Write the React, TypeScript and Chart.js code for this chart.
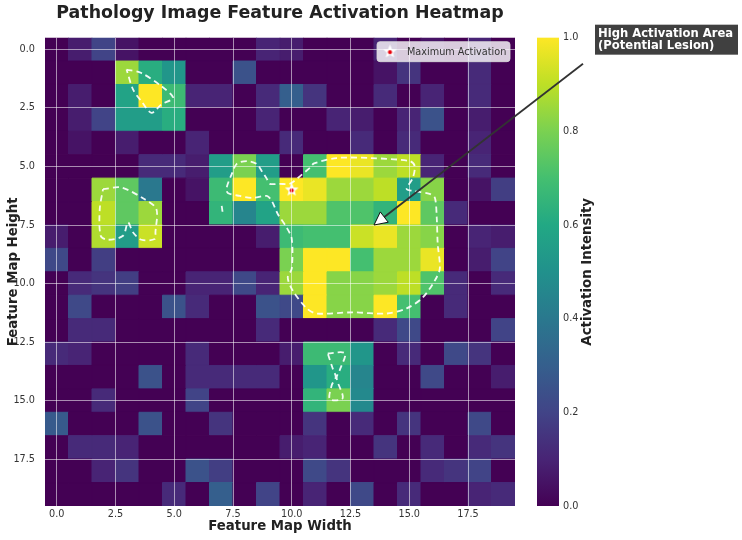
import React, { useEffect, useRef } from "react";
import { Chart, registerables } from "chart.js";

Chart.register(...registerables);

const FONT = "'DejaVu Sans', 'Liberation Sans', Arial, sans-serif";

const TITLE = "Pathology Image Feature Activation Heatmap";
const X_LABEL = "Feature Map Width";
const Y_LABEL = "Feature Map Height";
const CB_LABEL = "Activation Intensity";
const LEGEND_LABEL = "Maximum Activation";
const ANNOTATION_LINES = ["High Activation Area", "(Potential Lesion)"];

const axisTicks = [0, 2.5, 5, 7.5, 10, 12.5, 15, 17.5];
const colorbarTicks = [0, 0.2, 0.4, 0.6, 0.8, 1.0];

// activation[row][col], row 0 at top
const activation: number[][] = [
  [0, 0.08, 0.2, 0.05, 0, 0, 0, 0, 0, 0.1, 0.08, 0, 0, 0, 0.1, 0, 0.05, 0, 0.1, 0],
  [0, 0, 0, 0.85, 0.62, 0.52, 0, 0, 0.25, 0, 0, 0, 0, 0, 0.05, 0.15, 0, 0, 0.12, 0],
  [0, 0.08, 0, 0.58, 1.0, 0.68, 0.1, 0.1, 0, 0.12, 0.3, 0.15, 0, 0, 0.12, 0, 0.1, 0, 0.12, 0],
  [0, 0.08, 0.2, 0.55, 0.55, 0.62, 0, 0, 0, 0.1, 0, 0, 0.1, 0.08, 0, 0.1, 0.25, 0, 0.08, 0],
  [0, 0.05, 0, 0.08, 0, 0, 0.1, 0, 0, 0, 0.12, 0, 0, 0.12, 0, 0.12, 0, 0, 0.1, 0],
  [0, 0, 0, 0, 0.12, 0.12, 0.08, 0.55, 0.8, 0.55, 0, 0.7, 1.0, 0.97, 0.85, 0.9, 0.1, 0, 0.12, 0],
  [0, 0, 0.85, 0.75, 0.4, 0, 0.05, 0.68, 1.0, 0.7, 1.0, 0.97, 0.85, 0.85, 0.9, 0.55, 0.82, 0, 0.05, 0.18],
  [0, 0, 0.9, 0.75, 0.85, 0, 0, 0.65, 0.45, 0.58, 0.85, 0.85, 0.72, 0.72, 0.65, 1.0, 0.75, 0.12, 0, 0],
  [0.08, 0, 0.88, 0.55, 0.92, 0, 0, 0, 0, 0.08, 0.68, 0.7, 0.7, 0.92, 0.97, 0.85, 0.82, 0, 0.1, 0.08],
  [0.22, 0, 0.18, 0, 0, 0, 0, 0, 0, 0, 0.8, 1.0, 1.0, 0.7, 0.85, 0.85, 0.97, 0, 0.08, 0.2],
  [0, 0.12, 0.15, 0.18, 0, 0, 0.1, 0.1, 0.22, 0.1, 0.85, 1.0, 0.82, 0.82, 0.85, 0.9, 0.72, 0.12, 0, 0.12],
  [0, 0.22, 0, 0, 0, 0.25, 0.12, 0, 0, 0.25, 0.22, 1.0, 0.82, 0.82, 1.0, 0.7, 0, 0.12, 0, 0],
  [0, 0.12, 0.12, 0, 0, 0, 0, 0, 0, 0.12, 0, 0, 0, 0, 0.12, 0.22, 0, 0, 0, 0.2],
  [0.12, 0.1, 0, 0, 0, 0, 0.12, 0, 0, 0, 0.08, 0.68, 0.68, 0.52, 0, 0.12, 0, 0.22, 0.15, 0],
  [0, 0, 0, 0, 0.25, 0, 0.12, 0.12, 0.12, 0.12, 0, 0.52, 0.62, 0.45, 0, 0, 0.22, 0, 0, 0.08],
  [0, 0, 0.12, 0, 0, 0, 0.2, 0, 0, 0, 0, 0.65, 0.8, 0.47, 0, 0, 0, 0, 0, 0],
  [0.28, 0, 0, 0, 0.25, 0, 0, 0.15, 0, 0, 0, 0.15, 0, 0.12, 0, 0.15, 0, 0, 0.22, 0],
  [0, 0.12, 0.12, 0.1, 0, 0, 0, 0, 0, 0, 0.08, 0.1, 0, 0, 0.15, 0, 0.12, 0, 0.12, 0.15],
  [0, 0, 0.1, 0.15, 0, 0, 0.25, 0.18, 0, 0, 0, 0.22, 0.15, 0, 0, 0, 0.12, 0.15, 0.2, 0],
  [0, 0, 0, 0, 0, 0.12, 0, 0.3, 0, 0.2, 0, 0.1, 0, 0.22, 0, 0.12, 0, 0, 0.1, 0.12],
];

const maxPoint = { x: 10, y: 6 };
const annotationTarget = { x: 13.5, y: 7.5 };

// contour outlines (data coordinates)
const contourTop: number[][] = [
  [2.97, 0.86], [3.6, 1.01], [4.45, 1.57], [4.95, 2.07], [4.45, 2.35], [4.03, 2.71],
  [3.6, 2.21], [3.25, 1.72], [2.97, 0.86],
];
const contourLeft: number[][] = [
  [1.97, 5.97], [2.75, 5.9], [3.74, 6.4], [4.24, 6.82], [4.2, 7.8], [4.17, 8.1], [3.6, 8.13],
  [3.25, 7.82], [3.03, 7.39], [2.82, 7.96], [2.18, 8.13], [1.87, 7.96], [1.83, 6.82], [1.97, 5.97],
];
const contourMain: number[][] = [
  [10.77, 5.06], [10.26, 5.49], [9.91, 5.74], [9.49, 5.74], [9.06, 5.74], [8.94, 5.53],
  [8.72, 5.19], [8.51, 4.89], [8.09, 4.77], [7.66, 4.89], [7.45, 5.32], [7.23, 5.91],
  [7.28, 6.13], [7.79, 6.26], [8.34, 6.34], [8.94, 6.26], [9.15, 6.47], [9.4, 7.02],
  [9.79, 7.62], [10.0, 8.09], [10.0, 9.36], [9.83, 9.74], [10.04, 10.3], [10.64, 11.06],
  [11.06, 11.28], [12.6, 11.23], [14.04, 11.28], [14.89, 11.06], [15.57, 10.6], [16.09, 9.87],
  [16.3, 9.36], [16.21, 8.3], [16.17, 7.19], [16.09, 6.34], [15.87, 6.17], [15.15, 6.04],
  [14.89, 5.96], [15.15, 5.49], [15.23, 4.98], [15.02, 4.77], [13.32, 4.64], [11.91, 4.64],
  [10.95, 4.87], [10.77, 5.06],
];
const contourSpeck: number[][] = [[7.02, 6.68], [7.06, 6.98]];
const contourBottom: number[][] = [
  [11.53, 12.98], [12.26, 12.98], [12.04, 13.7], [11.91, 14.04], [12.17, 14.89], [11.62, 14.94],
  [11.7, 14.34], [11.87, 14.0], [11.74, 13.62], [11.53, 12.98],
];

const viridisStops = [
  "#440154", "#482475", "#414487", "#355f8d", "#2a788e", "#21918c",
  "#22a884", "#44bf70", "#7ad151", "#bddf26", "#fde725",
];

function hexToRgb(h: string) {
  return [parseInt(h.slice(1, 3), 16), parseInt(h.slice(3, 5), 16), parseInt(h.slice(5, 7), 16)];
}

function viridis(v: number) {
  const t = Math.min(1, Math.max(0, v)) * 10;
  const i = Math.min(9, Math.floor(t));
  const f = t - i;
  const a = hexToRgb(viridisStops[i]);
  const b = hexToRgb(viridisStops[i + 1]);
  const c = a.map((av, k) => Math.round(av + (b[k] - av) * f));
  return `rgb(${c[0]},${c[1]},${c[2]})`;
}

function makeStar(size: number) {
  const c = document.createElement("canvas");
  c.width = size;
  c.height = size;
  const g = c.getContext("2d")!;
  const cx = size / 2;
  const cy = size / 2;
  const ro = size / 2 - 0.3;
  const ri = ro * 0.45;
  g.beginPath();
  for (let i = 0; i < 10; i++) {
    const r = i % 2 === 0 ? ro : ri;
    const ang = -Math.PI / 2 + (i * Math.PI) / 5;
    const px = cx + r * Math.cos(ang);
    const py = cy + r * Math.sin(ang);
    if (i === 0) g.moveTo(px, py);
    else g.lineTo(px, py);
  }
  g.closePath();
  g.fillStyle = "#ffffff";
  g.fill();
  g.beginPath();
  g.arc(cx, cy + 0.5, 2.1, 0, Math.PI * 2);
  g.fillStyle = "#e8000b";
  g.fill();
  return c;
}

const toPts = (arr: number[][]) => arr.map(([x, y]) => ({ x, y }));

const fixSize = (key: "width" | "height", size: number) => (s: any) => {
  s[key] = size;
  s.paddingTop = 0;
  s.paddingBottom = 0;
  s.paddingLeft = 0;
  s.paddingRight = 0;
};

export default function App() {
  const ref = useRef<HTMLCanvasElement>(null);

  useEffect(() => {
    const canvas = ref.current!;
    const star = makeStar(15);

    const cells: { x: number; y: number; v: number }[] = [];
    activation.forEach((row, r) => row.forEach((v, c) => cells.push({ x: c, y: r, v })));

    const cellRadius = (ctx: any) => {
      const xs = ctx.chart.scales.x;
      const side = Math.abs(xs.getPixelForValue(1) - xs.getPixelForValue(0));
      return side / Math.SQRT2;
    };

    const contourStyle = {
      showLine: true,
      borderColor: "rgba(255,255,255,0.92)",
      borderWidth: 1.8,
      borderDash: [6, 4],
      pointRadius: 0,
      pointHitRadius: 0,
      tension: 0.3,
      fill: false,
      order: 1,
    };

    const overlayPlugin = {
      id: "overlay",
      afterDraw(chart: any) {
        const { ctx, chartArea: a, scales } = chart;
        const cb = scales.cb;
        ctx.save();
        // colorbar
        const yTop = cb.getPixelForValue(1);
        const yBot = cb.getPixelForValue(0);
        const grad = ctx.createLinearGradient(0, yBot, 0, yTop);
        viridisStops.forEach((c, i) => grad.addColorStop(i / 10, c));
        ctx.fillStyle = grad;
        ctx.fillRect(a.right + 22, yTop, 22, yBot - yTop);

        // colorbar label
        ctx.save();
        ctx.translate(a.right + 73, (a.top + a.bottom) / 2);
        ctx.rotate(-Math.PI / 2);
        ctx.font = `bold 13.3px ${FONT}`;
        ctx.fillStyle = "#222";
        ctx.textAlign = "center";
        ctx.textBaseline = "middle";
        ctx.fillText(CB_LABEL, 0, 0);
        ctx.restore();

        // legend
        const lx = a.right - 138;
        const ly = a.top + 4;
        const lw = 133;
        const lh = 20;
        ctx.beginPath();
        ctx.roundRect(lx, ly, lw, lh, 3);
        ctx.fillStyle = "rgba(255,255,255,0.8)";
        ctx.fill();
        ctx.strokeStyle = "rgba(220,220,220,0.8)";
        ctx.lineWidth = 1;
        ctx.stroke();
        ctx.drawImage(star, lx + 13 - 7.5, ly + 10 - 7.5);
        ctx.font = `9.7px ${FONT}`;
        ctx.fillStyle = "#333";
        ctx.textAlign = "left";
        ctx.textBaseline = "middle";
        ctx.fillText(LEGEND_LABEL, lx + 30, ly + 10.5);

        // annotation arrow
        const tx = scales.x.getPixelForValue(annotationTarget.x);
        const ty = scales.y.getPixelForValue(annotationTarget.y);
        const sx = a.right + 68;
        const sy = a.top + 26;
        const dx = tx - sx;
        const dy = ty - sy;
        const len = Math.hypot(dx, dy);
        const ux = dx / len;
        const uy = dy / len;
        const headLen = 13;
        const headHalf = 6.5;
        const bx = tx - ux * headLen;
        const by = ty - uy * headLen;
        ctx.beginPath();
        ctx.moveTo(sx, sy);
        ctx.lineTo(bx, by);
        ctx.strokeStyle = "#333";
        ctx.lineWidth = 1.8;
        ctx.stroke();
        ctx.beginPath();
        ctx.moveTo(tx, ty);
        ctx.lineTo(bx - uy * headHalf, by + ux * headHalf);
        ctx.lineTo(bx + uy * headHalf, by - ux * headHalf);
        ctx.closePath();
        ctx.fillStyle = "#ffffff";
        ctx.fill();
        ctx.strokeStyle = "#111";
        ctx.lineWidth = 1;
        ctx.stroke();

        // annotation box
        const bxL = a.right + 80;
        const byT = a.top - 13;
        ctx.fillStyle = "rgba(0,0,0,0.75)";
        ctx.fillRect(bxL, byT, 143, 30);
        ctx.font = `bold 11.6px ${FONT}`;
        ctx.fillStyle = "#ffffff";
        ctx.textAlign = "left";
        ctx.textBaseline = "alphabetic";
        ctx.fillText(ANNOTATION_LINES[0], bxL + 3, a.top - 1);
        ctx.fillText(ANNOTATION_LINES[1], bxL + 3, a.top + 11.3);
        ctx.restore();
      },
    };

    const tickFont = { family: FONT, size: 9.7 };
    const gridOpts = { color: "rgba(255,255,255,0.55)", lineWidth: 1, drawTicks: false, z: 1 };

    const chart = new Chart(canvas, {
      type: "scatter",
      data: {
        datasets: [
          {
            label: "cells",
            data: cells as any,
            pointStyle: "rect",
            pointRadius: cellRadius as any,
            pointBackgroundColor: ((ctx: any) => viridis(ctx.raw.v)) as any,
            pointBorderColor: ((ctx: any) => viridis(ctx.raw.v)) as any,
            pointBorderWidth: 1,
            order: 3,
          } as any,
          { label: "c1", data: toPts(contourTop), ...contourStyle } as any,
          { label: "c2", data: toPts(contourLeft), ...contourStyle } as any,
          { label: "c3", data: toPts(contourMain), ...contourStyle } as any,
          { label: "c4", data: toPts(contourSpeck), ...contourStyle, tension: 0 } as any,
          { label: "c5", data: toPts(contourBottom), ...contourStyle } as any,
          {
            label: LEGEND_LABEL,
            data: [maxPoint],
            pointStyle: star,
            pointRadius: 7,
            order: 0,
          } as any,
        ],
      },
      options: {
        responsive: false,
        animation: false,
        events: [],
        layout: { padding: 0, autoPadding: false },
        plugins: {
          legend: { display: false },
          tooltip: { enabled: false },
          title: {
            display: true,
            text: TITLE,
            fullSize: false,
            color: "#222",
            font: { family: FONT, size: 17.4, weight: "bold" },
            padding: { top: 3, bottom: 13.8 },
          },
        },
        scales: {
          x: {
            type: "linear",
            position: "bottom",
            min: -0.5,
            max: 19.5,
            afterBuildTicks: (s: any) => {
              s.ticks = axisTicks.map((value) => ({ value }));
            },
            afterFit: fixSize("height", 34),
            ticks: {
              autoSkip: false,
              maxRotation: 0,
              padding: 3,
              color: "#333",
              font: tickFont,
              callback: (v: any) => Number(v).toFixed(1),
            },
            grid: gridOpts,
            border: { display: false },
            title: {
              display: true,
              text: X_LABEL,
              color: "#222",
              font: { family: FONT, size: 13.3, weight: "bold" },
              padding: { top: 0, bottom: 5 },
            },
          },
          y: {
            type: "linear",
            position: "left",
            reverse: true,
            min: -0.5,
            max: 19.5,
            afterBuildTicks: (s: any) => {
              s.ticks = axisTicks.map((value) => ({ value }));
            },
            afterFit: fixSize("width", 45),
            ticks: {
              autoSkip: false,
              padding: 10,
              color: "#333",
              font: tickFont,
              callback: (v: any) => Number(v).toFixed(1),
            },
            grid: gridOpts,
            border: { display: false },
            title: {
              display: true,
              text: Y_LABEL,
              color: "#222",
              font: { family: FONT, size: 13.3, weight: "bold" },
              padding: { top: 6, bottom: 0 },
            },
          },
          cb: {
            type: "linear",
            position: "right",
            min: 0,
            max: 1,
            afterBuildTicks: (s: any) => {
              s.ticks = colorbarTicks.map((value) => ({ value }));
            },
            afterFit: fixSize("width", 227),
            ticks: {
              autoSkip: false,
              padding: 48,
              color: "#333",
              font: tickFont,
              callback: (v: any) => Number(v).toFixed(1),
            },
            grid: { display: false, drawTicks: false },
            border: { display: false },
          },
        },
      } as any,
      plugins: [overlayPlugin],
    });

    return () => chart.destroy();
  }, []);

  return (
    <div style={{ position: "fixed", left: 0, top: 0, width: 742, height: 540, background: "#fff" }}>
      <canvas ref={ref} width={742} height={540} style={{ display: "block" }} />
    </div>
  );
}
